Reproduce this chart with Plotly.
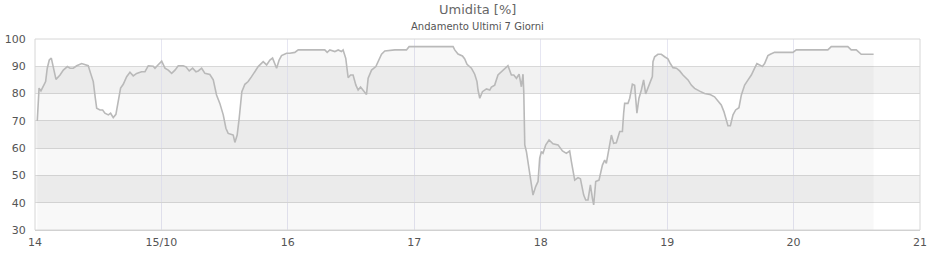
import datetime as dt
import plotly.graph_objects as go

# Time in decimal days of October and humidity values (%)
days = [14.018, 14.032, 14.047, 14.066, 14.084, 14.097, 14.113, 14.129, 14.145, 14.166,
        14.198, 14.224, 14.256, 14.277, 14.303, 14.330, 14.369, 14.395, 14.421, 14.440,
        14.461, 14.477, 14.488, 14.514, 14.535, 14.553, 14.580, 14.598, 14.619, 14.640,
        14.659, 14.677, 14.698, 14.725, 14.751, 14.777, 14.804, 14.843, 14.870, 14.896,
        14.935, 14.949, 14.967, 15.002, 15.028, 15.054, 15.081, 15.107, 15.133, 15.172,
        15.194, 15.220, 15.247, 15.273, 15.291, 15.318, 15.344, 15.383, 15.410, 15.436,
        15.462, 15.489, 15.510, 15.528, 15.555, 15.568, 15.581, 15.599, 15.615, 15.626,
        15.636, 15.660, 15.686, 15.713, 15.739, 15.765, 15.805, 15.832, 15.858, 15.879,
        15.911, 15.931, 15.950, 15.990, 16.016, 16.055, 16.082, 16.292, 16.311, 16.332,
        16.372, 16.398, 16.424, 16.437, 16.458, 16.477, 16.496, 16.516, 16.538, 16.556,
        16.575, 16.596, 16.622, 16.635, 16.662, 16.696, 16.714, 16.741, 16.767, 16.846,
        16.938, 16.959, 17.307, 17.320, 17.346, 17.381, 17.399, 17.417, 17.452, 17.478,
        17.496, 17.504, 17.518, 17.539, 17.571, 17.597, 17.610, 17.636, 17.662, 17.702,
        17.728, 17.741, 17.768, 17.787, 17.808, 17.829, 17.847, 17.860, 17.866, 17.874,
        17.887, 17.900, 17.919, 17.939, 17.960, 17.979, 17.992, 18.005, 18.018, 18.040,
        18.066, 18.097, 18.137, 18.172, 18.203, 18.229, 18.243, 18.269, 18.295, 18.314,
        18.340, 18.356, 18.374, 18.393, 18.409, 18.419, 18.435, 18.461, 18.488, 18.506,
        18.519, 18.545, 18.559, 18.577, 18.598, 18.625, 18.646, 18.656, 18.664, 18.690,
        18.704, 18.725, 18.743, 18.761, 18.777, 18.796, 18.814, 18.830, 18.848, 18.867,
        18.883, 18.888, 18.901, 18.927, 18.954, 18.980, 19.006, 19.025, 19.046, 19.073,
        19.099, 19.125, 19.165, 19.191, 19.217, 19.257, 19.296, 19.336, 19.375, 19.402,
        19.428, 19.449, 19.468, 19.481, 19.500, 19.521, 19.542, 19.568, 19.587, 19.613,
        19.640, 19.666, 19.692, 19.710, 19.731, 19.753, 19.771, 19.797, 19.816, 19.850,
        19.995, 20.021, 20.271, 20.298, 20.429, 20.456, 20.496, 20.535, 20.633]
humidity = [70, 82, 81, 83, 84.4, 89.3, 92.3, 93, 89.3, 85.2,
            86.8, 88.6, 89.9, 89.3, 89.3, 90.2, 91, 90.5, 90.2, 87.4,
            84.4, 78.3, 74.6, 74, 74, 72.8, 72.2, 72.8, 71.2, 72.4,
            77, 82, 83.4, 86.2, 87.8, 86.5, 87.4, 88, 88, 90.2,
            90, 89.3, 90.2, 91.9, 89.3, 88.6, 87.4, 88.6, 90.2, 90.2,
            89.8, 88.3, 89.3, 88, 88.3, 89.3, 87.4, 87, 85, 79.5,
            76.4, 72.2, 67.3, 65.4, 65, 64.8, 62.1, 64.8, 70.9, 77,
            80.7, 83.4, 84.4, 86.2, 88, 89.9, 91.7, 90.5, 92.3, 93,
            89.3, 92.3, 93.9, 94.8, 94.8, 95.1, 96, 96, 95.1, 96,
            95.4, 96, 95.4, 96, 92.9, 85.8, 86.8, 86.8, 83.1, 81.3,
            82.4, 81.3, 79.7, 85.6, 88.6, 89.9, 91.7, 94.4, 95.6, 96,
            96, 97.2, 97.2, 96, 94.5, 93.8, 92.7, 90.7, 89.3, 87.1,
            84.4, 81.3, 78.3, 80.7, 81.7, 81.3, 82.4, 83.1, 86.8, 88.6,
            89.6, 90.2, 86.8, 86.8, 85.6, 87.1, 82.5, 87.1, 80.7, 61.2,
            58.7, 55, 50.2, 42.8, 45.9, 47.8, 56.3, 58.7, 58.1, 61.2,
            63, 61.6, 61.2, 59, 58.1, 59, 55, 48.3, 49.2, 48.8,
            42.8, 41, 41, 46.5, 41.6, 39.2, 47.8, 48.3, 53.8, 55.6,
            54.4, 61.2, 64.8, 61.8, 62, 66.1, 66.1, 72.8, 76.4, 76.4,
            78.3, 83.4, 83, 72.8, 78.3, 81.3, 85, 79.9, 82, 84.4,
            86.2, 91.7, 93.5, 94.4, 94.4, 93.5, 92.7, 91, 89.5, 89.3,
            88.3, 86.8, 85, 83.1, 81.9, 80.9, 80, 79.7, 78.8, 77.3,
            75.8, 73.4, 70.3, 68.2, 68.2, 72.2, 74, 74.8, 79.5, 83.1,
            85, 86.8, 89.3, 91, 90.5, 89.9, 91, 93.9, 94.4, 95.1,
            95.1, 96, 96, 97.2, 97.2, 96, 96, 94.4, 94.4]

tick_days = [14, 15, 16, 17, 18, 19, 20, 21]
tick_labels = ["14", "15/10", "16", "17", "18", "19", "20", "21"]
y_ticks = [30, 40, 50, 60, 70, 80, 90, 100]
band_ranges = [(40, 50), (60, 70), (80, 90)]
title_text = "Umidita [%]"
subtitle_text = "Andamento Ultimi 7 Giorni"

base = dt.datetime(2021, 10, 1)


def to_time(d):
    return base + dt.timedelta(days=d - 1)


times = [to_time(d) for d in days]
tick_times = [to_time(d) for d in tick_days]

fig = go.Figure()
fig.add_trace(go.Scatter(
    x=times, y=humidity, mode="lines",
    line=dict(color="#b9b9b9", width=1.6),
    fill="tozeroy", fillcolor="rgba(0,0,0,0.026)",
    hoverinfo="x+y", showlegend=False,
))

shapes = []
for lo, hi in band_ranges:
    shapes.append(dict(type="rect", xref="paper", yref="y", x0=0, x1=1, y0=lo, y1=hi,
                       fillcolor="#f2f2f2", line=dict(width=0), layer="below"))
shapes.append(dict(type="rect", xref="paper", yref="paper", x0=0, x1=1, y0=0, y1=1,
                   fillcolor="rgba(0,0,0,0)", line=dict(color="#d6d6d6", width=1), layer="above"))

font_family = "DejaVu Sans, Verdana, sans-serif"
H, T, B = 260, 39, 30
plot_h = H - T - B


def paper_y(px_from_top):
    return (H - B - px_from_top) / plot_h


fig.update_layout(
    width=940, height=H,
    margin=dict(l=35, r=20, t=T, b=B, autoexpand=False),
    paper_bgcolor="white", plot_bgcolor="white",
    font=dict(family=font_family, size=11, color="#555555"),
    shapes=shapes,
    annotations=[
        dict(text=title_text, x=0.5, y=paper_y(10), xref="paper", yref="paper",
             xanchor="center", yanchor="middle", showarrow=False,
             font=dict(size=13, color="#666666", family=font_family)),
        dict(text=subtitle_text, x=0.5, y=paper_y(27), xref="paper", yref="paper",
             xanchor="center", yanchor="middle", showarrow=False,
             font=dict(size=10, color="#555555", family=font_family)),
    ],
    xaxis=dict(
        type="date", automargin=False,
        range=[tick_times[0], tick_times[-1]],
        tickvals=tick_times, ticktext=tick_labels,
        showgrid=True, gridcolor="#e6e6f2", gridwidth=1,
        showline=True, linecolor="#cccccc",
        ticks="outside", ticklen=2, tickcolor="rgba(0,0,0,0)",
        tickfont=dict(size=11, color="#555555"),
        zeroline=False, fixedrange=True,
    ),
    yaxis=dict(
        automargin=False,
        range=[30, 100], tickvals=y_ticks,
        showgrid=True, gridcolor="#d8d8d8", gridwidth=1,
        ticks="outside", ticklen=6, tickcolor="rgba(0,0,0,0)",
        tickfont=dict(size=11, color="#555555"),
        zeroline=False, showline=False, fixedrange=True,
    ),
)

fig.write_html("out.html")
